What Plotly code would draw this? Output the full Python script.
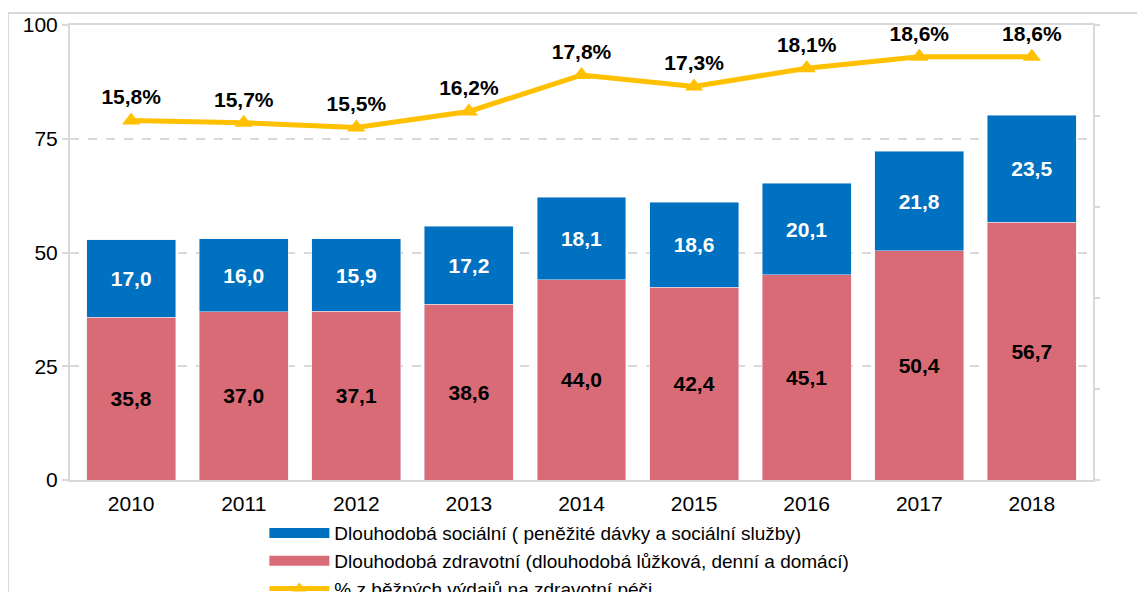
import plotly.graph_objects as go

years = ['2010', '2011', '2012', '2013', '2014', '2015', '2016', '2017', '2018']
zdravotni = [35.8, 37.0, 37.1, 38.6, 44.0, 42.4, 45.1, 50.4, 56.7]
socialni = [17.0, 16.0, 15.9, 17.2, 18.1, 18.6, 20.1, 21.8, 23.5]
podil = [15.8, 15.7, 15.5, 16.2, 17.8, 17.3, 18.1, 18.6, 18.6]

name_soc = 'Dlouhodobá sociální ( peněžité dávky a sociální služby)'
name_zdr = 'Dlouhodobá zdravotní (dlouhodobá lůžková, denní a domácí)'
name_pct = '% z běžných výdajů na zdravotní péči'

BLUE = '#0070C0'
PINK = '#D96B76'
YELLOW = '#FFC000'
GRID = '#D9D9D9'
FONT = 'Liberation Sans, Arial, sans-serif'

fig = go.Figure()

fig.add_trace(go.Bar(
    x=years, y=zdravotni, name=name_zdr, marker_color=PINK,
    texttemplate='%{y:.1f}', textposition='inside', insidetextanchor='middle',
    textfont=dict(color='black', size=21, family=FONT, weight='bold'),
    showlegend=False,
))
fig.add_trace(go.Bar(
    x=years, y=socialni, name=name_soc, marker_color=BLUE,
    texttemplate='%{y:.1f}', textposition='inside', insidetextanchor='middle',
    textfont=dict(color='white', size=21, family=FONT, weight='bold'),
    showlegend=False,
))
fig.add_trace(go.Scatter(
    x=years, y=podil, name=name_pct, yaxis='y2',
    mode='lines+markers+text',
    line=dict(color=YELLOW, width=5),
    marker=dict(symbol='triangle-up', size=16, color=YELLOW),
    texttemplate='%{y:.1f}%', textposition='top center',
    textfont=dict(color='black', size=21, family=FONT, weight='bold'),
    cliponaxis=False, showlegend=False,
))

# legend entries (wide colour swatches like the original)
fig.add_trace(go.Scatter(x=[None], y=[None], mode='lines', name=name_soc,
                         line=dict(color=BLUE, width=13)))
fig.add_trace(go.Scatter(x=[None], y=[None], mode='lines', name=name_zdr,
                         line=dict(color=PINK, width=13)))
fig.add_trace(go.Scatter(x=[None], y=[None], mode='lines+markers', name=name_pct,
                         line=dict(color=YELLOW, width=5),
                         marker=dict(symbol='triangle-up', size=12, color=YELLOW)))

# outer chart border
fig.add_shape(type='line', xref='paper', yref='paper', x0=-0.0606, x1=-0.0606,
              y0=1.0264, y1=-0.3, line=dict(color=GRID, width=2))
fig.add_shape(type='line', xref='paper', yref='paper', x0=-0.0606, x1=1.1,
              y0=1.0264, y1=1.0264, line=dict(color=GRID, width=2))

fig.update_layout(
    width=1145, height=592,
    margin=dict(l=62, r=60, t=17, b=120, autoexpand=False),
    paper_bgcolor='white', plot_bgcolor='white',
    barmode='stack', bargap=0.21,
    separators=', ',
    font=dict(family=FONT, size=20, color='black'),
    xaxis=dict(showline=True, linecolor=GRID, linewidth=2, mirror=True,
               ticks='', tickfont=dict(size=21), ticklabelstandoff=4),
    yaxis=dict(range=[0, 100], tickvals=[0, 25, 50, 75, 100],
               showgrid=True, gridcolor=GRID, griddash='dash', gridwidth=1.5,
               showline=True, linecolor=GRID, linewidth=2, mirror=True,
               ticks='outside', ticklen=6, tickcolor=GRID, tickwidth=2,
               tickfont=dict(size=21), zeroline=False),
    yaxis2=dict(range=[0, 20], dtick=4, overlaying='y', side='right',
                showgrid=False, showticklabels=False, zeroline=False,
                ticks='outside', ticklen=6, tickcolor=GRID, tickwidth=2),
    legend=dict(x=0.19, y=-0.075, xanchor='left', yanchor='top',
                orientation='v', itemwidth=60, traceorder='normal',
                font=dict(size=19), bgcolor='rgba(0,0,0,0)'),
)

fig.write_html('out.html')
